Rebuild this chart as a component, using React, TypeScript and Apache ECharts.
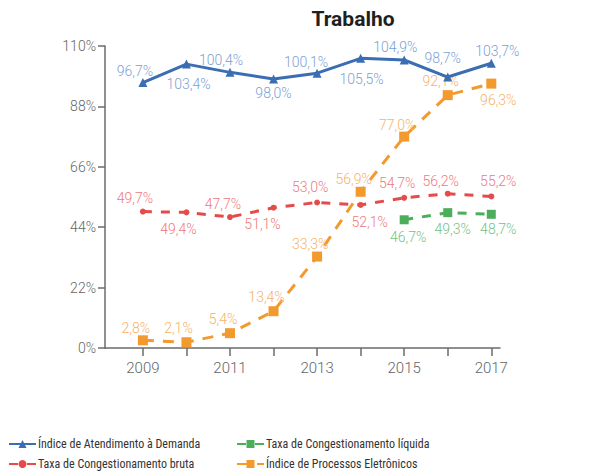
import React, { useEffect, useRef } from "react";
import * as echarts from "echarts";

const years = [2009, 2010, 2011, 2012, 2013, 2014, 2015, 2016, 2017];
const atendimento = [96.7, 103.4, 100.4, 98.0, 100.1, 105.5, 104.9, 98.7, 103.7];
const congBruta = [49.7, 49.4, 47.7, 51.1, 53.0, 52.1, 54.7, 56.2, 55.2];
const liquidaYears = [2015, 2016, 2017];
const congLiquida = [46.7, 49.3, 48.7];
const eletronicos = [2.8, 2.1, 5.4, 13.4, 33.3, 56.9, 77.0, 92.1, 96.3];
const yTicks = [0, 22, 44, 66, 88, 110];
const xLabelYears = [2009, 2011, 2013, 2015, 2017];

const seriesNames = [
  "Índice de Atendimento à Demanda",
  "Taxa de Congestionamento bruta",
  "Taxa de Congestionamento líquida",
  "Índice de Processos Eletrônicos",
];

// label placement (style only): offset of label centre from point
const offAt = [[-8, -12], [2, 20], [-9, -12], [0, 14], [-11, -11], [1, 21], [-9, -13], [-5, -19], [6, -12]];
const offBruta = [[-8, -14], [-8, 17], [-7, -13], [-11, 16], [-7, -15], [9, 17], [-7, -15], [-7, -13], [7, -15]];
const offLiq = [[4, 17], [5, 16], [7, 15]];
const offEle = [[-7, -12], [-8, -14], [-7, -14], [-7, -14], [-7, -13], [-7, -13], [-7, -12], [-7, -14], [7, 16]];

const fmt = (v: number) => v.toFixed(1).replace(".", ",") + "%";

function build(xs: number[], vs: number[], offs: number[][]) {
  return xs.map((x, i) => ({ value: [x, vs[i]], label: { offset: offs[i] } }));
}

const labelBase = (color: string) => ({
  show: true,
  position: "inside",
  color,
  fontSize: 14,
  fontWeight: 300,
  fontFamily: "Roboto, sans-serif",
  formatter: (p: any) => fmt(p.value[1]),
});

const legendText = {
  fontSize: 12,
  lineHeight: 14,
  color: "#333",
  padding: [0, 0, 0, -3],
  fontFamily: "'Liberation Sans Narrow', 'Roboto Condensed', Roboto, sans-serif",
};

export default function App() {
  const ref = useRef<HTMLDivElement>(null);
  useEffect(() => {
    if (!ref.current) return;
    const chart = echarts.init(ref.current, null, { renderer: "svg" });
    const axisColor = "#6b6b6b";
    chart.setOption({
      animation: false,
      backgroundColor: "#ffffff",
      graphic: [
        {
          type: "text",
          x: 353,
          y: 19,
          style: {
            text: "Trabalho",
            fontSize: 21,
            fontWeight: "bold",
            fontFamily: "Roboto, sans-serif",
            fill: "#1f1f1f",
            textAlign: "center",
            textVerticalAlign: "middle",
          },
        },
      ],
      legend: [
        {
          data: [seriesNames[0], seriesNames[1]],
          orient: "vertical",
          left: 8,
          top: 437,
          padding: 0,
          itemWidth: 27,
          itemHeight: 10,
          itemGap: 6,
          textStyle: legendText,
        },
        {
          data: [seriesNames[2], seriesNames[3]],
          orient: "vertical",
          left: 236,
          top: 437,
          padding: 0,
          itemWidth: 27,
          itemHeight: 10,
          itemGap: 6,
          textStyle: legendText,
        },
      ],
      grid: { left: 105, right: 110, top: 46, bottom: 124, containLabel: false },
      xAxis: {
        type: "value",
        min: 2008.13,
        max: 2017.2,
        splitLine: { show: false },
        axisLine: { show: true, lineStyle: { color: axisColor, width: 1.5 } },
        axisTick: { show: true, customValues: years, length: 8, lineStyle: { color: axisColor, width: 1.5 } },
        axisLabel: {
          customValues: xLabelYears,
          formatter: (v: number) => String(Math.round(v)),
          color: "#666",
          fontSize: 15,
          fontWeight: 300,
          fontFamily: "Roboto, sans-serif",
          margin: 12,
        },
      },
      yAxis: {
        type: "value",
        min: 0,
        max: 110,
        interval: 22,
        splitLine: { show: false },
        axisLine: { show: true, lineStyle: { color: axisColor, width: 1.5 } },
        axisTick: { show: true, length: 7, customValues: yTicks, lineStyle: { color: axisColor, width: 1.5 } },
        axisLabel: {
          formatter: (v: number) => v + "%",
          color: "#666",
          fontSize: 14,
          fontWeight: 300,
          fontFamily: "Roboto, sans-serif",
          margin: 9,
        },
      },
      series: [
        {
          name: seriesNames[0],
          type: "line",
          data: build(years, atendimento, offAt),
          symbol: "triangle",
          symbolSize: 9,
          color: "#3b6db3",
          lineStyle: { width: 3, color: "#3b6db3" },
          label: labelBase("#7b9fd6"),
          z: 4,
        },
        {
          name: seriesNames[1],
          type: "line",
          data: build(years, congBruta, offBruta),
          symbol: "circle",
          symbolSize: 6,
          color: "#e54b4b",
          lineStyle: { width: 3, type: [9, 9], color: "#e54b4b" },
          label: labelBase("#ee7a7a"),
          z: 3,
        },
        {
          name: seriesNames[2],
          type: "line",
          data: build(liquidaYears, congLiquida, offLiq),
          symbol: "rect",
          symbolSize: 9,
          color: "#4cae5a",
          lineStyle: { width: 3, type: [9, 9], color: "#4cae5a" },
          label: labelBase("#72c385"),
          z: 3,
        },
        {
          name: seriesNames[3],
          type: "line",
          data: build(years, eletronicos, offEle),
          symbol: "rect",
          symbolSize: 10,
          color: "#f29a2e",
          lineStyle: { width: 3, type: [11, 9], color: "#f29a2e" },
          label: labelBase("#f6b26b"),
          z: 2,
        },
      ],
    });
    return () => chart.dispose();
  }, []);
  return <div ref={ref} style={{ width: 610, height: 472, position: "absolute", left: 0, top: 0 }} />;
}
